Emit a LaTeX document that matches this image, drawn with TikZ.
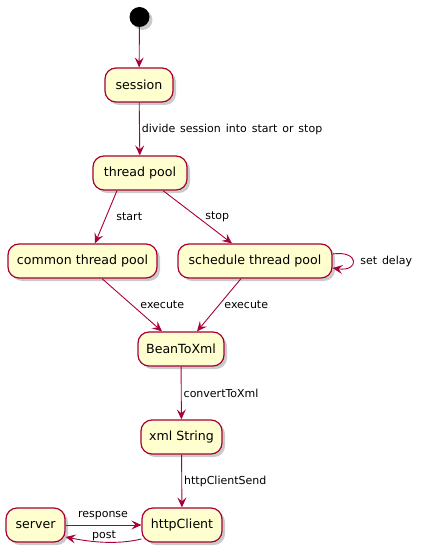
\documentclass[tikz,border=0pt]{standalone}
\usepackage{fontspec}
\setmainfont{DejaVu Sans}
\usetikzlibrary{arrows.meta,shadows}
\definecolor{pborder}{HTML}{A80036}
\definecolor{pfill}{HTML}{FEFECE}
\newcommand\mylblfont{\fontsize{11}{13}\selectfont\spaceskip=4.9pt plus 1pt\relax}
\tikzset{
  state/.style={draw=pborder, fill=pfill, line width=1.2pt, rounded corners=11pt,
    minimum height=34pt, inner sep=0pt,
    drop shadow={shadow xshift=3pt, shadow yshift=-3pt, opacity=0.35, fill=black!60},
    font=\fontsize{12.6}{15}\selectfont},
  arr/.style={draw=pborder, line width=0.9pt, -{Stealth[length=10pt,width=9pt,inset=4pt]}},
  lbl/.style={inner sep=0pt, font=\mylblfont},
}
\begin{document}
\begin{tikzpicture}[x=1pt,y=-1pt]
\useasboundingbox (0,0) rectangle (421,556);
\node[circle, fill=black, minimum size=20pt, inner sep=0pt,
  drop shadow={shadow xshift=3pt, shadow yshift=-3pt, opacity=0.35, fill=black!60}] (start) at (139.5,17) {};
\node[state, minimum width=68pt] (session) at (139,85) {session};
\node[state, minimum width=94pt] (tp) at (140,173) {thread pool};
\node[state, minimum width=149pt] (common) at (82.5,261) {common thread pool};
\node[state, minimum width=154pt] (sched) at (255,261) {schedule thread pool};
\node[state, minimum width=86pt] (bean) at (181,349) {BeanToXml};
\node[state, minimum width=81pt] (xml) at (181.5,437) {xml String};
\node[state, minimum width=80pt] (hc) at (182,525) {httpClient};
\node[state, minimum width=59pt] (server) at (35.5,525) {server};

\draw[arr] (start) -- (session);
\draw[arr] (session) -- node[lbl, anchor=west, xshift=2pt] {divide session into start or stop} (tp);
\draw[arr] ([xshift=-23pt]tp.south) -- node[lbl, anchor=west, xshift=10pt] {start} ([xshift=12.5pt]common.north);
\draw[arr] ([xshift=23pt]tp.south) -- node[lbl, anchor=west, xshift=7.5pt] {stop} ([xshift=-23pt]sched.north);
\draw[arr] ([xshift=19.5pt]common.south) -- node[lbl, anchor=west, xshift=8pt] {execute} ([xshift=-19pt]bean.north);
\draw[arr] ([xshift=-14pt]sched.south) -- node[lbl, anchor=west, xshift=5pt] {execute} ([xshift=16pt]bean.north);
\draw[arr] ([yshift=7pt]sched.east) .. controls +(27,-4) and +(27,4) .. node[lbl, anchor=west, xshift=7pt] {set delay} ([yshift=-7pt]sched.east);
\draw[arr] (bean) -- node[lbl, anchor=west, xshift=2pt] {convertToXml} (xml);
\draw[arr] (xml) -- node[lbl, anchor=west, xshift=2pt] {httpClientSend} (hc);
\draw[arr] (server) -- (hc);
\node[lbl] (lresp) at (103,516) {response};
\draw[arr] ([yshift=-14pt]hc.west) .. controls +(-25,6) and +(25,5) .. ([yshift=-12pt]server.east);
\node[lbl] (lpost) at (104,536) {post};
\end{tikzpicture}
\end{document}
